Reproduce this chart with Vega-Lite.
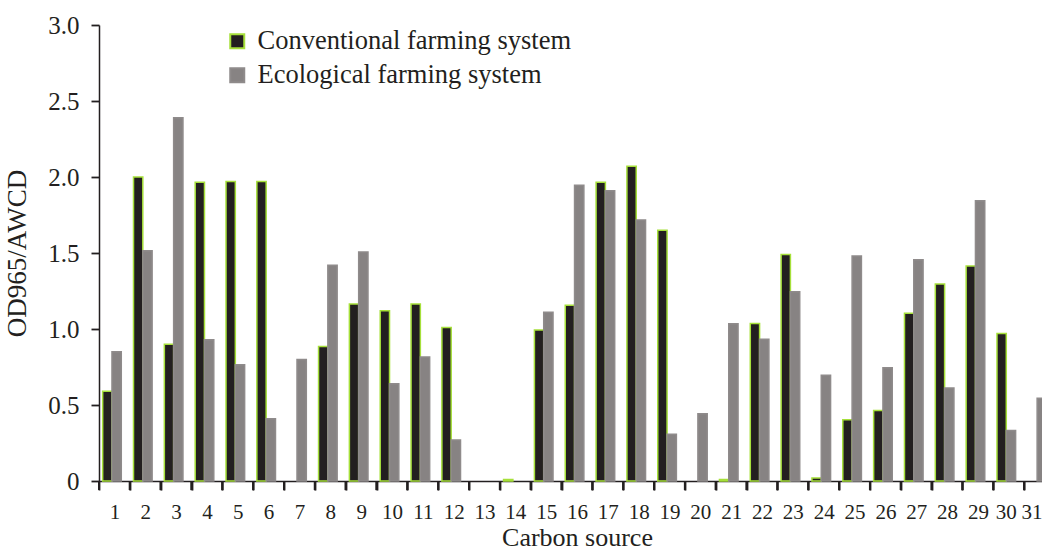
{
  "$schema": "https://vega.github.io/schema/vega-lite/v6.json",
  "autosize": "none",
  "width": 943,
  "height": 456,
  "padding": {"left": 99, "top": 25, "right": 0, "bottom": 71},
  "background": "white",
  "config": {
    "view": {"stroke": null},
    "font": "Liberation Serif",
    "axis": {"grid": false, "domainColor": "#231f20", "tickColor": "#231f20", "labelColor": "#231f20", "titleColor": "#231f20", "labelFont": "Liberation Serif", "titleFont": "Liberation Serif", "titleFontWeight": "normal", "domainWidth": 1.5, "tickWidth": 1.8}
  },
  "data": {
    "values": [
      {"source": 1, "system": "Conventional farming system", "value": 0.59},
      {"source": 1, "system": "Ecological farming system", "value": 0.85},
      {"source": 2, "system": "Conventional farming system", "value": 2.0},
      {"source": 2, "system": "Ecological farming system", "value": 1.515},
      {"source": 3, "system": "Conventional farming system", "value": 0.9},
      {"source": 3, "system": "Ecological farming system", "value": 2.39},
      {"source": 4, "system": "Conventional farming system", "value": 1.965},
      {"source": 4, "system": "Ecological farming system", "value": 0.93},
      {"source": 5, "system": "Conventional farming system", "value": 1.97},
      {"source": 5, "system": "Ecological farming system", "value": 0.765},
      {"source": 6, "system": "Conventional farming system", "value": 1.97},
      {"source": 6, "system": "Ecological farming system", "value": 0.41},
      {"source": 7, "system": "Conventional farming system", "value": null},
      {"source": 7, "system": "Ecological farming system", "value": 0.8},
      {"source": 8, "system": "Conventional farming system", "value": 0.885},
      {"source": 8, "system": "Ecological farming system", "value": 1.42},
      {"source": 9, "system": "Conventional farming system", "value": 1.165},
      {"source": 9, "system": "Ecological farming system", "value": 1.507},
      {"source": 10, "system": "Conventional farming system", "value": 1.12},
      {"source": 10, "system": "Ecological farming system", "value": 0.64},
      {"source": 11, "system": "Conventional farming system", "value": 1.165},
      {"source": 11, "system": "Ecological farming system", "value": 0.816},
      {"source": 12, "system": "Conventional farming system", "value": 1.01},
      {"source": 12, "system": "Ecological farming system", "value": 0.27},
      {"source": 13, "system": "Conventional farming system", "value": null},
      {"source": 13, "system": "Ecological farming system", "value": null},
      {"source": 14, "system": "Conventional farming system", "value": 0.01},
      {"source": 14, "system": "Ecological farming system", "value": null},
      {"source": 15, "system": "Conventional farming system", "value": 0.993},
      {"source": 15, "system": "Ecological farming system", "value": 1.11},
      {"source": 16, "system": "Conventional farming system", "value": 1.156},
      {"source": 16, "system": "Ecological farming system", "value": 1.945},
      {"source": 17, "system": "Conventional farming system", "value": 1.965},
      {"source": 17, "system": "Ecological farming system", "value": 1.91},
      {"source": 18, "system": "Conventional farming system", "value": 2.07},
      {"source": 18, "system": "Ecological farming system", "value": 1.717},
      {"source": 19, "system": "Conventional farming system", "value": 1.65},
      {"source": 19, "system": "Ecological farming system", "value": 0.307},
      {"source": 20, "system": "Conventional farming system", "value": null},
      {"source": 20, "system": "Ecological farming system", "value": 0.443},
      {"source": 21, "system": "Conventional farming system", "value": 0.01},
      {"source": 21, "system": "Ecological farming system", "value": 1.035},
      {"source": 22, "system": "Conventional farming system", "value": 1.037},
      {"source": 22, "system": "Ecological farming system", "value": 0.932},
      {"source": 23, "system": "Conventional farming system", "value": 1.49},
      {"source": 23, "system": "Ecological farming system", "value": 1.245},
      {"source": 24, "system": "Conventional farming system", "value": 0.02},
      {"source": 24, "system": "Ecological farming system", "value": 0.695},
      {"source": 25, "system": "Conventional farming system", "value": 0.403},
      {"source": 25, "system": "Ecological farming system", "value": 1.48},
      {"source": 26, "system": "Conventional farming system", "value": 0.463},
      {"source": 26, "system": "Ecological farming system", "value": 0.745},
      {"source": 27, "system": "Conventional farming system", "value": 1.103},
      {"source": 27, "system": "Ecological farming system", "value": 1.456},
      {"source": 28, "system": "Conventional farming system", "value": 1.296},
      {"source": 28, "system": "Ecological farming system", "value": 0.612},
      {"source": 29, "system": "Conventional farming system", "value": 1.414},
      {"source": 29, "system": "Ecological farming system", "value": 1.844},
      {"source": 30, "system": "Conventional farming system", "value": 0.97},
      {"source": 30, "system": "Ecological farming system", "value": 0.333},
      {"source": 31, "system": "Conventional farming system", "value": null},
      {"source": 31, "system": "Ecological farming system", "value": 0.544}
    ]
  },
  "layer": [
    {
      "mark": {"type": "bar", "strokeWidth": 1.5},
      "encoding": {
        "x": {
          "field": "source", "type": "ordinal", "title": "Carbon source",
          "scale": {"domain": [1,2,3,4,5,6,7,8,9,10,11,12,13,14,15,16,17,18,19,20,21,22,23,24,25,26,27,28,29,30,31], "range": [0, 956], "paddingInner": 0, "paddingOuter": 0},
          "axis": {"labelAngle": 0, "ticks": true, "tickBand": "extent", "tickSize": 9, "labelFontSize": 21, "labelPadding": 11, "titleFontSize": 26, "titlePadding": 2,
            "labelOverlap": false,
            "labelOffset": {"condition": [{"test": "datum.value == 31", "value": -8}, {"test": "datum.value == 30", "value": -3}], "value": 0},
            "labelBound": false}
        },
        "xOffset": {
          "field": "system", "type": "nominal",
          "scale": {"paddingInner": 0, "paddingOuter": 0.657, "align": 0.3}
        },
        "y": {
          "field": "value", "type": "quantitative", "title": "OD965/AWCD",
          "scale": {"domain": [0, 3], "nice": false},
          "axis": {"values": [0, 0.5, 1, 1.5, 2, 2.5, 3], "labelExpr": "datum.value == 0 ? '0' : format(datum.value, '.1f')", "tickSize": 8, "labelFontSize": 25, "labelPadding": 12, "titleFontSize": 27, "titlePadding": 16}
        },
        "color": {
          "field": "system", "type": "nominal", "title": null,
          "scale": {"range": ["#231f20", "#878383"]},
          "legend": {"orient": "none", "legendX": 125, "legendY": 3, "labelFontSize": 26.5, "labelFont": "Liberation Serif", "labelColor": "#231f20", "symbolType": "square", "symbolSize": 196, "symbolStrokeWidth": 2, "rowPadding": 7, "labelOffset": 7, "padding": 0, "labelLimit": 500}
        },
        "stroke": {
          "field": "system", "type": "nominal", "title": null,
          "scale": {"range": ["#a6e03a", "#8f8b8b"]}
        }
      }
    },
    {
      "mark": {"type": "rule", "strokeWidth": 2, "color": "#231f20", "clip": false},
      "encoding": {
        "x": {"field": "source", "type": "ordinal", "title": "Carbon source", "bandPosition": 0},
        "y": {"datum": 0, "type": "quantitative", "title": "OD965/AWCD"},
        "y2": {"datum": -0.06}
      }
    }
  ]
}
